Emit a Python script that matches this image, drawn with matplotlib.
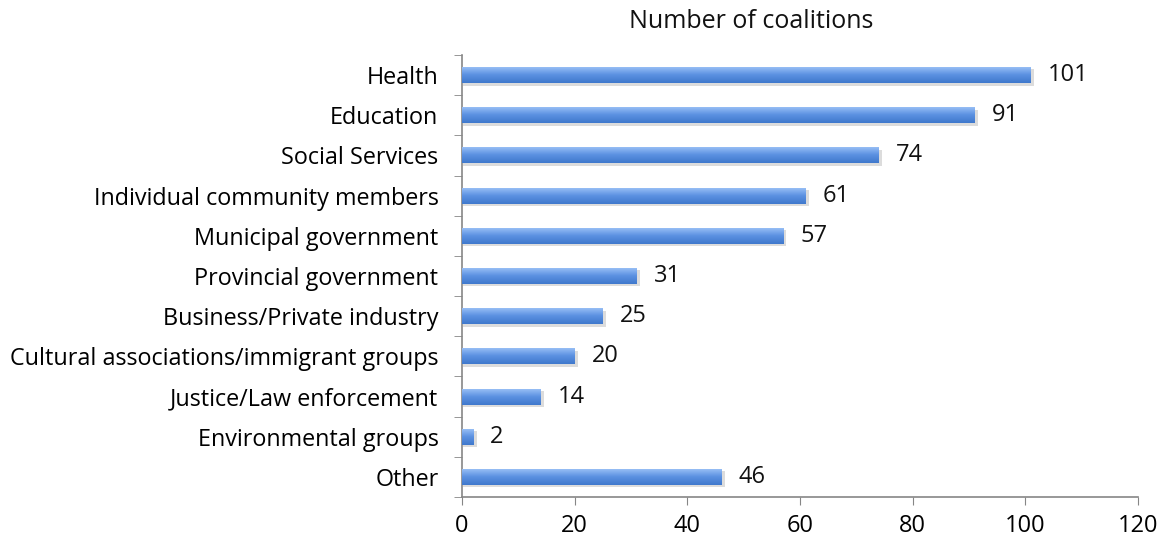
import numpy as np
import matplotlib.pyplot as plt
from matplotlib.colors import LinearSegmentedColormap

categories = ['Health', 'Education', 'Social Services', 'Individual community members',
              'Municipal government', 'Provincial government', 'Business/Private industry',
              'Cultural associations/immigrant groups', 'Justice/Law enforcement',
              'Environmental groups', 'Other']
values = [101, 91, 74, 61, 57, 31, 25, 20, 14, 2, 46]
x_ticks = [0, 20, 40, 60, 80, 100, 120]

plt.rcParams['font.family'] = ['Open Sans', 'DejaVu Sans']

fig = plt.figure(figsize=(11.65, 5.41), dpi=100)
ax = fig.add_axes([462 / 1165, 1 - 497 / 541, (1138 - 462) / 1165, (497 - 55) / 541])

n = len(categories)
ypos = np.arange(n)[::-1]
grad = LinearSegmentedColormap.from_list('g', ['#3f78cc', '#5c92e2', '#9ec3f7'])
bars = ax.barh(ypos, values, height=0.4, color='#6a9be6', zorder=2)
img = np.linspace(0, 1, 64).reshape(-1, 1)
for b in bars:
    x0, y0 = b.get_x(), b.get_y()
    w, h = b.get_width(), b.get_height()
    # soft shadow
    ax.barh(y0 + h / 2 - 0.06, w + 0.4, height=h, left=x0 + 0.2,
            color='#bbbbbb', alpha=0.5, zorder=1)
    im = ax.imshow(img, cmap=grad, aspect='auto', extent=[x0, x0 + w, y0, y0 + h],
                   origin='lower', zorder=3)
    im.set_clip_path(b)

for y, v in zip(ypos, values):
    ax.text(v + 3, y, str(v), va='center', ha='left', fontsize=17, color='#111111')

ax.set_xlim(0, 120)
ax.set_ylim(-0.5, n - 0.5)
ax.set_xticks(x_ticks)
ax.set_yticks(ypos)
ax.set_yticklabels(categories, fontsize=16.8)
ax.set_yticks(np.arange(-0.5, n, 1), minor=True)
ax.tick_params(axis='y', which='major', length=0, pad=17)
ax.tick_params(axis='y', which='minor', length=6, color='#868686', direction='out')
ax.tick_params(axis='x', length=6, color='#868686', labelsize=17, pad=6)
for s in ['top', 'right']:
    ax.spines[s].set_visible(False)
for s in ['left', 'bottom']:
    ax.spines[s].set_color('#868686')
    ax.spines[s].set_linewidth(1.2)

fig.text(751 / 1165, 1 - 22 / 541, 'Number of coalitions', ha='center', va='center',
         fontsize=18, color='#111111')

fig.savefig('out.png', dpi=100)
